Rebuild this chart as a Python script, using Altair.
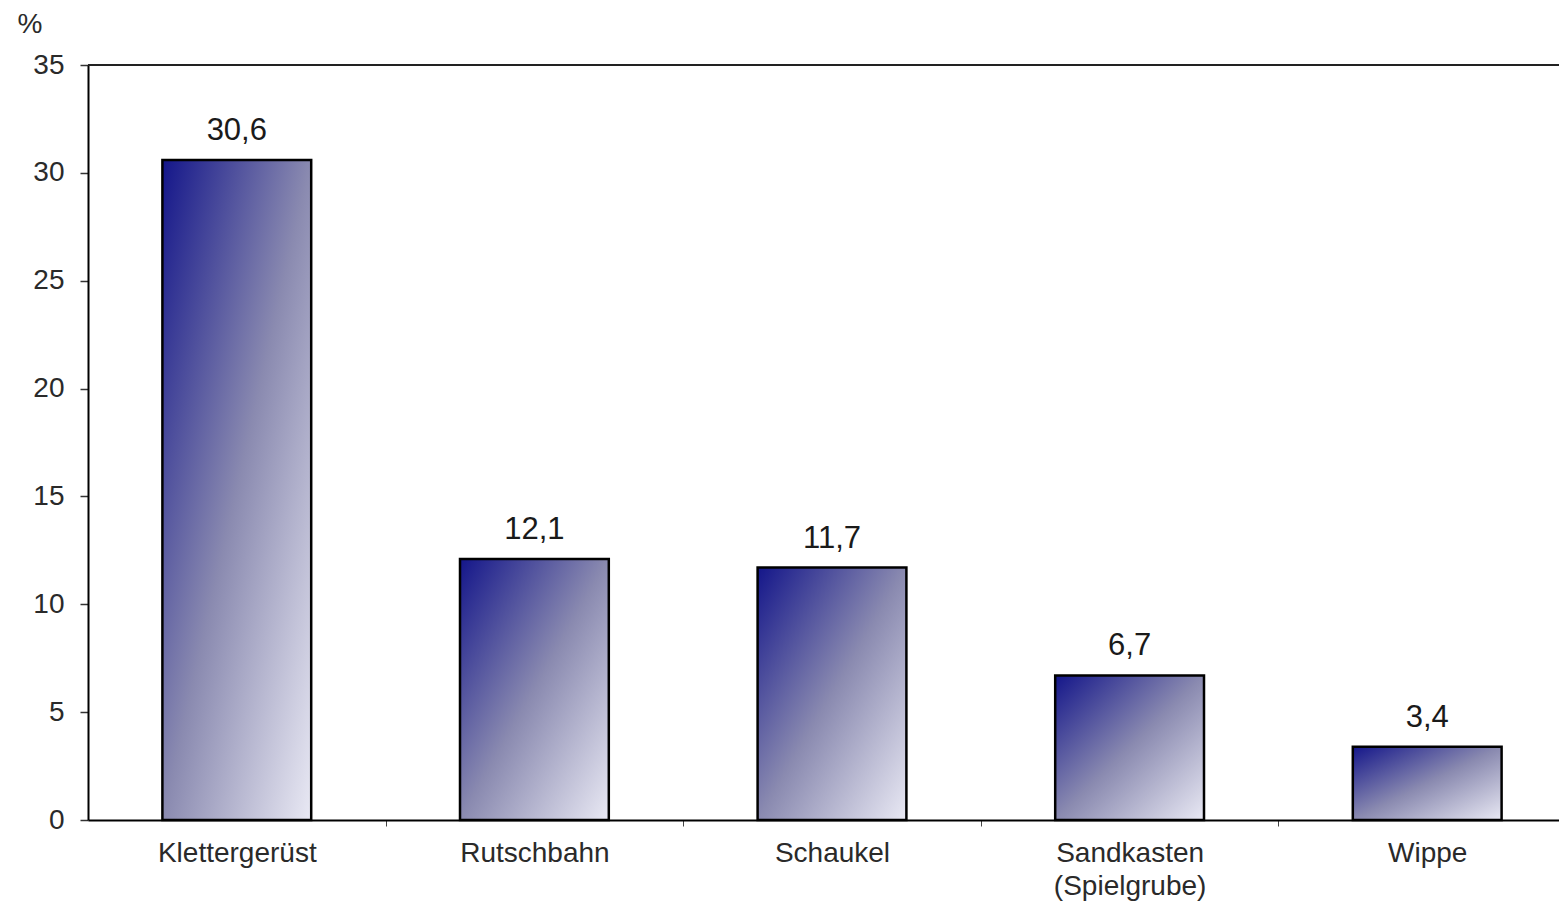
import altair as alt
import pandas as pd

categories = ["Klettergerüst", "Rutschbahn", "Schaukel", "Sandkasten (Spielgrube)", "Wippe"]
values = [30.6, 12.1, 11.7, 6.7, 3.4]
value_labels = ["30,6", "12,1", "11,7", "6,7", "3,4"]
y_ticks = [0, 5, 10, 15, 20, 25, 30, 35]

df = pd.DataFrame({"cat": categories, "val": values, "lab": value_labels})

FONT = "Liberation Sans"
HALF_STEP = 1488 / 5 / 2

gradient = alt.LinearGradient(
    gradient="linear",
    x1=0, y1=0, x2=1, y2=1,
    stops=[
        alt.GradientStop(color="#14168a", offset=0),
        alt.GradientStop(color="#8a8ab0", offset=0.5),
        alt.GradientStop(color="#e9e9f4", offset=1),
    ],
)

x_enc = alt.X(
    "cat:N",
    sort=categories,
    scale=alt.Scale(range=[0, 1488], paddingInner=0.5, paddingOuter=0.25),
    axis=alt.Axis(
        title=None,
        labelAngle=0,
        labelFont=FONT,
        labelFontSize=28,
        labelColor="#2a2a2a",
        labelPadding=13,
        labelLineHeight=33,
        labelExpr="split(datum.label, ' ')",
        tickOffset=HALF_STEP,
        labelOffset=-HALF_STEP,
        tickSize=6,
        tickColor="#444",
        tickWidth=1,
        domainColor="#000",
        domainWidth=2,
        grid=False,
    ),
)

y_enc = alt.Y(
    "val:Q",
    scale=alt.Scale(domain=[0, 35], nice=False),
    axis=alt.Axis(
        title="%",
        titleAngle=0,
        titleAlign="left",
        titleBaseline="alphabetic",
        titleX=-71,
        titleY=-33,
        titleFont=FONT,
        titleFontSize=28,
        titleFontWeight="normal",
        titleColor="#2a2a2a",
        values=y_ticks,
        labelFont=FONT,
        labelFontSize=28,
        labelColor="#2a2a2a",
        labelPadding=16,
        tickSize=8,
        tickColor="#333",
        tickWidth=1.5,
        domainColor="#000",
        domainWidth=2,
        grid=False,
    ),
)

bars = alt.Chart(df).mark_bar(
    color=gradient, stroke="#000", strokeWidth=2.5
).encode(x=x_enc, y=y_enc)

texts = alt.Chart(df).mark_text(
    font=FONT, fontSize=31, color="#1a1a1a", baseline="alphabetic", dy=-20
).encode(x=alt.X("cat:N", sort=categories), y="val:Q", text="lab:N")

top_rule = alt.Chart(pd.DataFrame({"v": [35]})).mark_rule(
    color="#222", strokeWidth=2
).encode(y="v:Q")

chart = (
    alt.layer(bars, texts, top_rule)
    .properties(
        width=1471,
        height=755,
        padding={"left": 88, "top": 65, "right": 0, "bottom": 84},
        autosize=alt.AutoSizeParams(type="none"),
        background="white",
    )
    .configure_view(stroke=None)
)

chart.save("out.html", embed_options={"renderer": "svg", "actions": False})
